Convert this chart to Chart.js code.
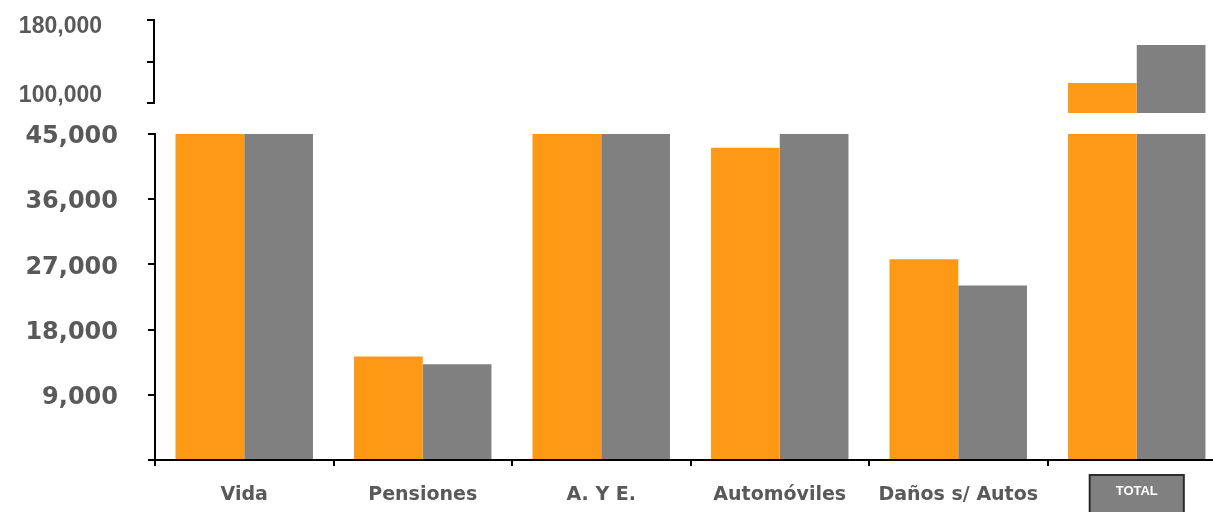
<!DOCTYPE html>
<html>
<head>
<meta charset="utf-8">
<script src="https://cdn.jsdelivr.net/npm/chart.js@4.4.1/dist/chart.umd.min.js"></script>
<style>
html, body { margin: 0; padding: 0; background: #fff; overflow: hidden; width: 1213px; height: 512px; }
#top { position: absolute; left: 0; top: 0; width: 1226px; height: 118px; }
#bottom { position: absolute; left: 0; top: 118px; width: 1226px; height: 394px; }
</style>
</head>
<body>
<div id="top"><canvas id="upper"></canvas></div>
<div id="bottom"><canvas id="lower"></canvas></div>
<script>
// data
const categories = ['Vida', 'Pensiones', 'A. Y E.', 'Automóviles', 'Daños s/ Autos', 'TOTAL'];
const seriesOrange = [45000, 14300, 45000, 43100, 27700, 119300];
const seriesGray = [45000, 13200, 45000, 45000, 24100, 155900];
const lowerMax = 45000;
const lowerStep = 9000;
const upperTicks = [100000, 140000, 180000];
const upperLabels = ['100,000', '', '180,000'];
const upperMin = 90400;

const ORANGE = '#FD9914';
const GRAY = '#808080';
const TEXT = '#595959';

function makeDatasets() {
    return [
        { label: 'Serie 1', data: seriesOrange, backgroundColor: ORANGE, clip: 0 },
        { label: 'Serie 2', data: seriesGray, backgroundColor: GRAY, clip: 0 }
    ];
}

// draws the axis line of the upper panel only between its first and last tick
const bracket = {
    id: 'bracket',
    afterDatasetsDraw(chart) {
        const y = chart.scales.y;
        const x = chart.chartArea.left - 1;
        const ctx = chart.ctx;
        ctx.save();
        ctx.strokeStyle = '#000';
        ctx.lineWidth = 2;
        ctx.beginPath();
        ctx.moveTo(x, y.getPixelForValue(upperTicks[upperTicks.length - 1]) - 1);
        ctx.lineTo(x, y.getPixelForValue(upperTicks[0]) + 1);
        ctx.stroke();
        ctx.restore();
    }
};

// border around the label backdrop (TOTAL box)
const labelBox = {
    id: 'labelBox',
    afterDraw(chart) {
        const scale = chart.scales.x;
        const ctx = chart.ctx;
        scale.getLabelItems().forEach(item => {
            const b = item.options && item.options.backdrop;
            if (!b) return;
            const t = item.options.translation;
            ctx.save();
            ctx.strokeStyle = '#2b2b2b';
            ctx.lineWidth = 2;
            ctx.strokeRect(t[0] + b.left, t[1] + b.top, b.width, b.height);
            ctx.restore();
        });
    }
};

const barOpts = { bar: { barPercentage: 1, categoryPercentage: 0.77 } };

new Chart(document.getElementById('upper'), {
    type: 'bar',
    data: { labels: categories, datasets: makeDatasets() },
    plugins: [bracket],
    options: {
        animation: false,
        responsive: true,
        maintainAspectRatio: false,
        layout: { padding: { top: 20, bottom: 5, left: 0, right: 0 } },
        datasets: barOpts,
        plugins: { legend: { display: false }, tooltip: { enabled: false } },
        scales: {
            x: { display: false },
            y: {
                min: upperMin,
                max: upperTicks[upperTicks.length - 1],
                afterBuildTicks: s => { s.ticks = upperTicks.map(v => ({ value: v })); },
                afterFit: s => { s.width = 155; s.paddingTop = 0; s.paddingBottom = 0; },
                border: { display: false },
                grid: { drawOnChartArea: false, tickLength: 8, color: '#000', lineWidth: 2 },
                ticks: {
                    padding: 45,
                    color: TEXT,
                    font: c => ({
                        family: 'Liberation Sans',
                        weight: 'bold',
                        size: 23,
                        lineHeight: '14px'
                    }),
                    callback: (v, i) => {
                        const txt = upperLabels[i];
                        if (!txt) return '';
                        return i === upperTicks.length - 1 ? ['', txt] : [txt, ''];
                    }
                }
            }
        }
    }
});

new Chart(document.getElementById('lower'), {
    type: 'bar',
    data: { labels: categories, datasets: makeDatasets() },
    plugins: [labelBox],
    options: {
        animation: false,
        responsive: true,
        maintainAspectRatio: false,
        layout: { padding: { top: 16, bottom: 0, left: 0, right: 0 } },
        datasets: barOpts,
        plugins: { legend: { display: false }, tooltip: { enabled: false } },
        scales: {
            x: {
                afterFit: s => { s.height = 52; },
                border: { color: '#000', width: 2 },
                grid: { drawOnChartArea: false, offset: true, tickLength: 6, color: '#000', lineWidth: 2 },
                ticks: {
                    autoSkip: false,
                    maxRotation: 0,
                    padding: 18,
                    color: c => c.index === categories.length - 1 ? '#fff' : TEXT,
                    font: c => c.index === categories.length - 1
                        ? { family: 'Liberation Sans', weight: 'bold', size: 13 }
                        : { family: 'DejaVu Sans', weight: 'bold', size: 19 },
                    showLabelBackdrop: c => c.index === categories.length - 1,
                    backdropColor: GRAY,
                    backdropPadding: { top: 9, bottom: 30, left: 26, right: 26 }
                }
            },
            y: {
                min: 0,
                max: lowerMax,
                afterFit: s => { s.width = 155; s.paddingTop = 0; s.paddingBottom = 0; },
                border: { color: '#000', width: 2 },
                grid: { drawOnChartArea: false, tickLength: 7, color: '#000', lineWidth: 2 },
                ticks: {
                    stepSize: lowerStep,
                    padding: 30,
                    labelOffset: 3,
                    color: TEXT,
                    font: { family: 'DejaVu Sans', weight: 'bold', size: 24 },
                    callback: v => v === 0 ? '' : v.toLocaleString('en-US')
                }
            }
        }
    }
});
</script>
</body>
</html>
